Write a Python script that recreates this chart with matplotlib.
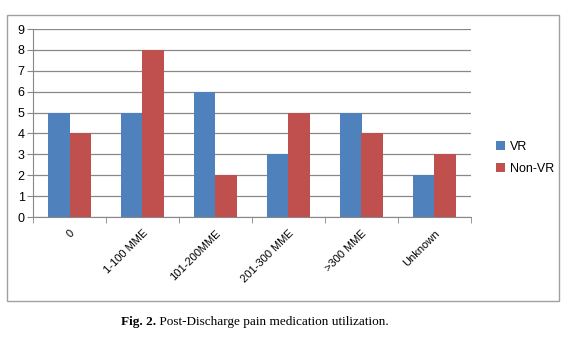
import matplotlib.pyplot as plt
from matplotlib.patches import Rectangle
import numpy as np

categories = ["0", "1-100 MME", "101-200MME", "201-300 MME", ">300 MME", "Unknown"]
vr = [5, 5, 6, 3, 5, 2]
non_vr = [4, 8, 2, 5, 4, 3]

W, H = 576, 338
fig = plt.figure(figsize=(W / 100, H / 100), dpi=100)
plt.rcParams['font.family'] = ['Liberation Sans', 'DejaVu Sans']

# outer chart border
fig.patches.append(Rectangle((7 / W, 1 - 301 / H), (559 - 7) / W, (301 - 15) / H,
                             transform=fig.transFigure, fill=False,
                             edgecolor='#a0a0a0', linewidth=1.0))

ax = fig.add_axes([33 / W, 1 - 217 / H, (471 - 33) / W, (217 - 29) / H])
x = np.arange(len(categories)) + 0.5
bw = 0.29
ax.bar(x - bw / 2, vr, bw, color='#4F81BD', label='VR', zorder=3)
ax.bar(x + bw / 2, non_vr, bw, color='#C0504D', label='Non-VR', zorder=3)

ax.set_xlim(0, len(categories))
ax.set_ylim(0, 9)
ax.set_yticks(range(0, 10))
ax.yaxis.grid(True, color='#888888', linewidth=0.9, zorder=0)
for s in ['top', 'right']:
    ax.spines[s].set_visible(False)
ax.spines['left'].set_color('#888888')
ax.spines['bottom'].set_color('#888888')

ax.set_xticks(x)
ax.set_xticklabels(categories, rotation=45, ha='right', rotation_mode='anchor', fontsize=8)
ax.tick_params(axis='x', length=0, pad=8)
ax.set_xticks(range(0, len(categories) + 1), minor=True)
ax.tick_params(axis='x', which='minor', length=4, color='#888888')
ax.tick_params(axis='y', length=4, color='#888888', labelsize=9, pad=2)

ax.legend(loc='center left', bbox_to_anchor=(485 / W, 1 - 158 / H),
          bbox_transform=fig.transFigure, frameon=False, fontsize=9,
          handlelength=0.7, handleheight=0.7, handletextpad=0.4, labelspacing=0.8)

# caption: bold "Fig. 2." followed by regular text
cap_y = 1 - 322 / H
t1 = fig.text(121 / W, cap_y, "Fig. 2.", ha='left', va='center', fontsize=9.5,
              family='Liberation Serif', fontweight='bold')
fig.canvas.draw()
bb = t1.get_window_extent()
fig.text(bb.x1 / W, cap_y, " Post-Discharge pain medication utilization.",
         ha='left', va='center', fontsize=9.5, family='Liberation Serif')

fig.savefig('out.png', dpi=100)
